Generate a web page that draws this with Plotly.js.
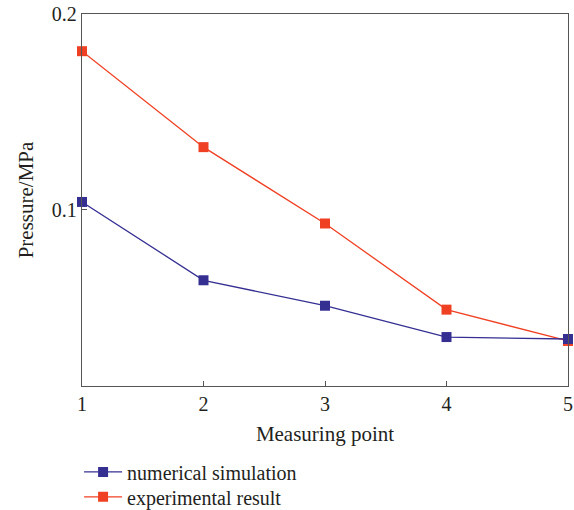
<!DOCTYPE html>
<html>
<head>
<meta charset="utf-8">
<script src="https://cdn.plot.ly/plotly-3.0.1.min.js"></script>
<style>html,body{margin:0;padding:0;background:#fff;}#chart{width:574px;height:510px;}</style>
</head>
<body>
<div id="chart"></div>
<script>
const points = [1, 2, 3, 4, 5];
const numericalSimulation = [0.104, 0.064, 0.051, 0.035, 0.034];
const experimentalResult = [0.181, 0.132, 0.093, 0.049, 0.033];
const yTickVals = [0.1, 0.2];
const yTickText = ['0.1', '0.2'];
const xTickVals = [1, 2, 3, 4, 5];

const FAMILY = 'Liberation Serif, Times New Roman, serif';
const tickFont = {family: FAMILY, size: 20, color: '#231f20'};
const titleFont = {family: FAMILY, size: 21, color: '#231f20'};
const legendFont = {family: FAMILY, size: 20, color: '#231f20'};

const traces = [
  {x: points, y: experimentalResult, name: 'experimental result', type: 'scatter', mode: 'lines+markers',
   legend: 'legend2',
   line: {color: '#f04023', width: 1.3}, marker: {symbol: 'square', size: 10, color: '#f04023'}, cliponaxis: false},
  {x: points, y: numericalSimulation, name: 'numerical simulation', type: 'scatter', mode: 'lines+markers',
   legend: 'legend',
   line: {color: '#352f92', width: 1.3}, marker: {symbol: 'square', size: 10, color: '#352f92'}, cliponaxis: false}
];

const legendBase = {xanchor: 'left', yanchor: 'middle', font: legendFont, bgcolor: 'rgba(0,0,0,0)',
                    itemwidth: 38, borderwidth: 0};

const layout = {
  width: 574, height: 510,
  margin: {l: 82, r: 6, t: 14, b: 124, autoexpand: false},
  paper_bgcolor: '#fff', plot_bgcolor: '#fff',
  font: tickFont,
  showlegend: true,
  legend: Object.assign({x: -0.006, y: -0.231}, legendBase),
  legend2: Object.assign({x: -0.006, y: -0.298}, legendBase),
  xaxis: {range: [1, 5], tickvals: xTickVals, ticks: 'inside', ticklen: 5, tickcolor: '#555',
          showline: true, linecolor: '#555', linewidth: 1.3, mirror: true, showgrid: false, zeroline: false,
          title: {text: 'Measuring point', font: titleFont, standoff: 12}, tickfont: tickFont},
  yaxis: {range: [0.01, 0.2], tickvals: yTickVals, ticktext: yTickText, ticks: 'inside', ticklen: 5, tickcolor: '#555',
          showline: true, linecolor: '#555', linewidth: 1.3, mirror: true, showgrid: false, zeroline: false,
          title: {text: 'Pressure/MPa', font: titleFont, standoff: 12}, tickfont: tickFont}
};

Plotly.newPlot('chart', traces, layout, {displayModeBar: false, staticPlot: true});
</script>
</body>
</html>
